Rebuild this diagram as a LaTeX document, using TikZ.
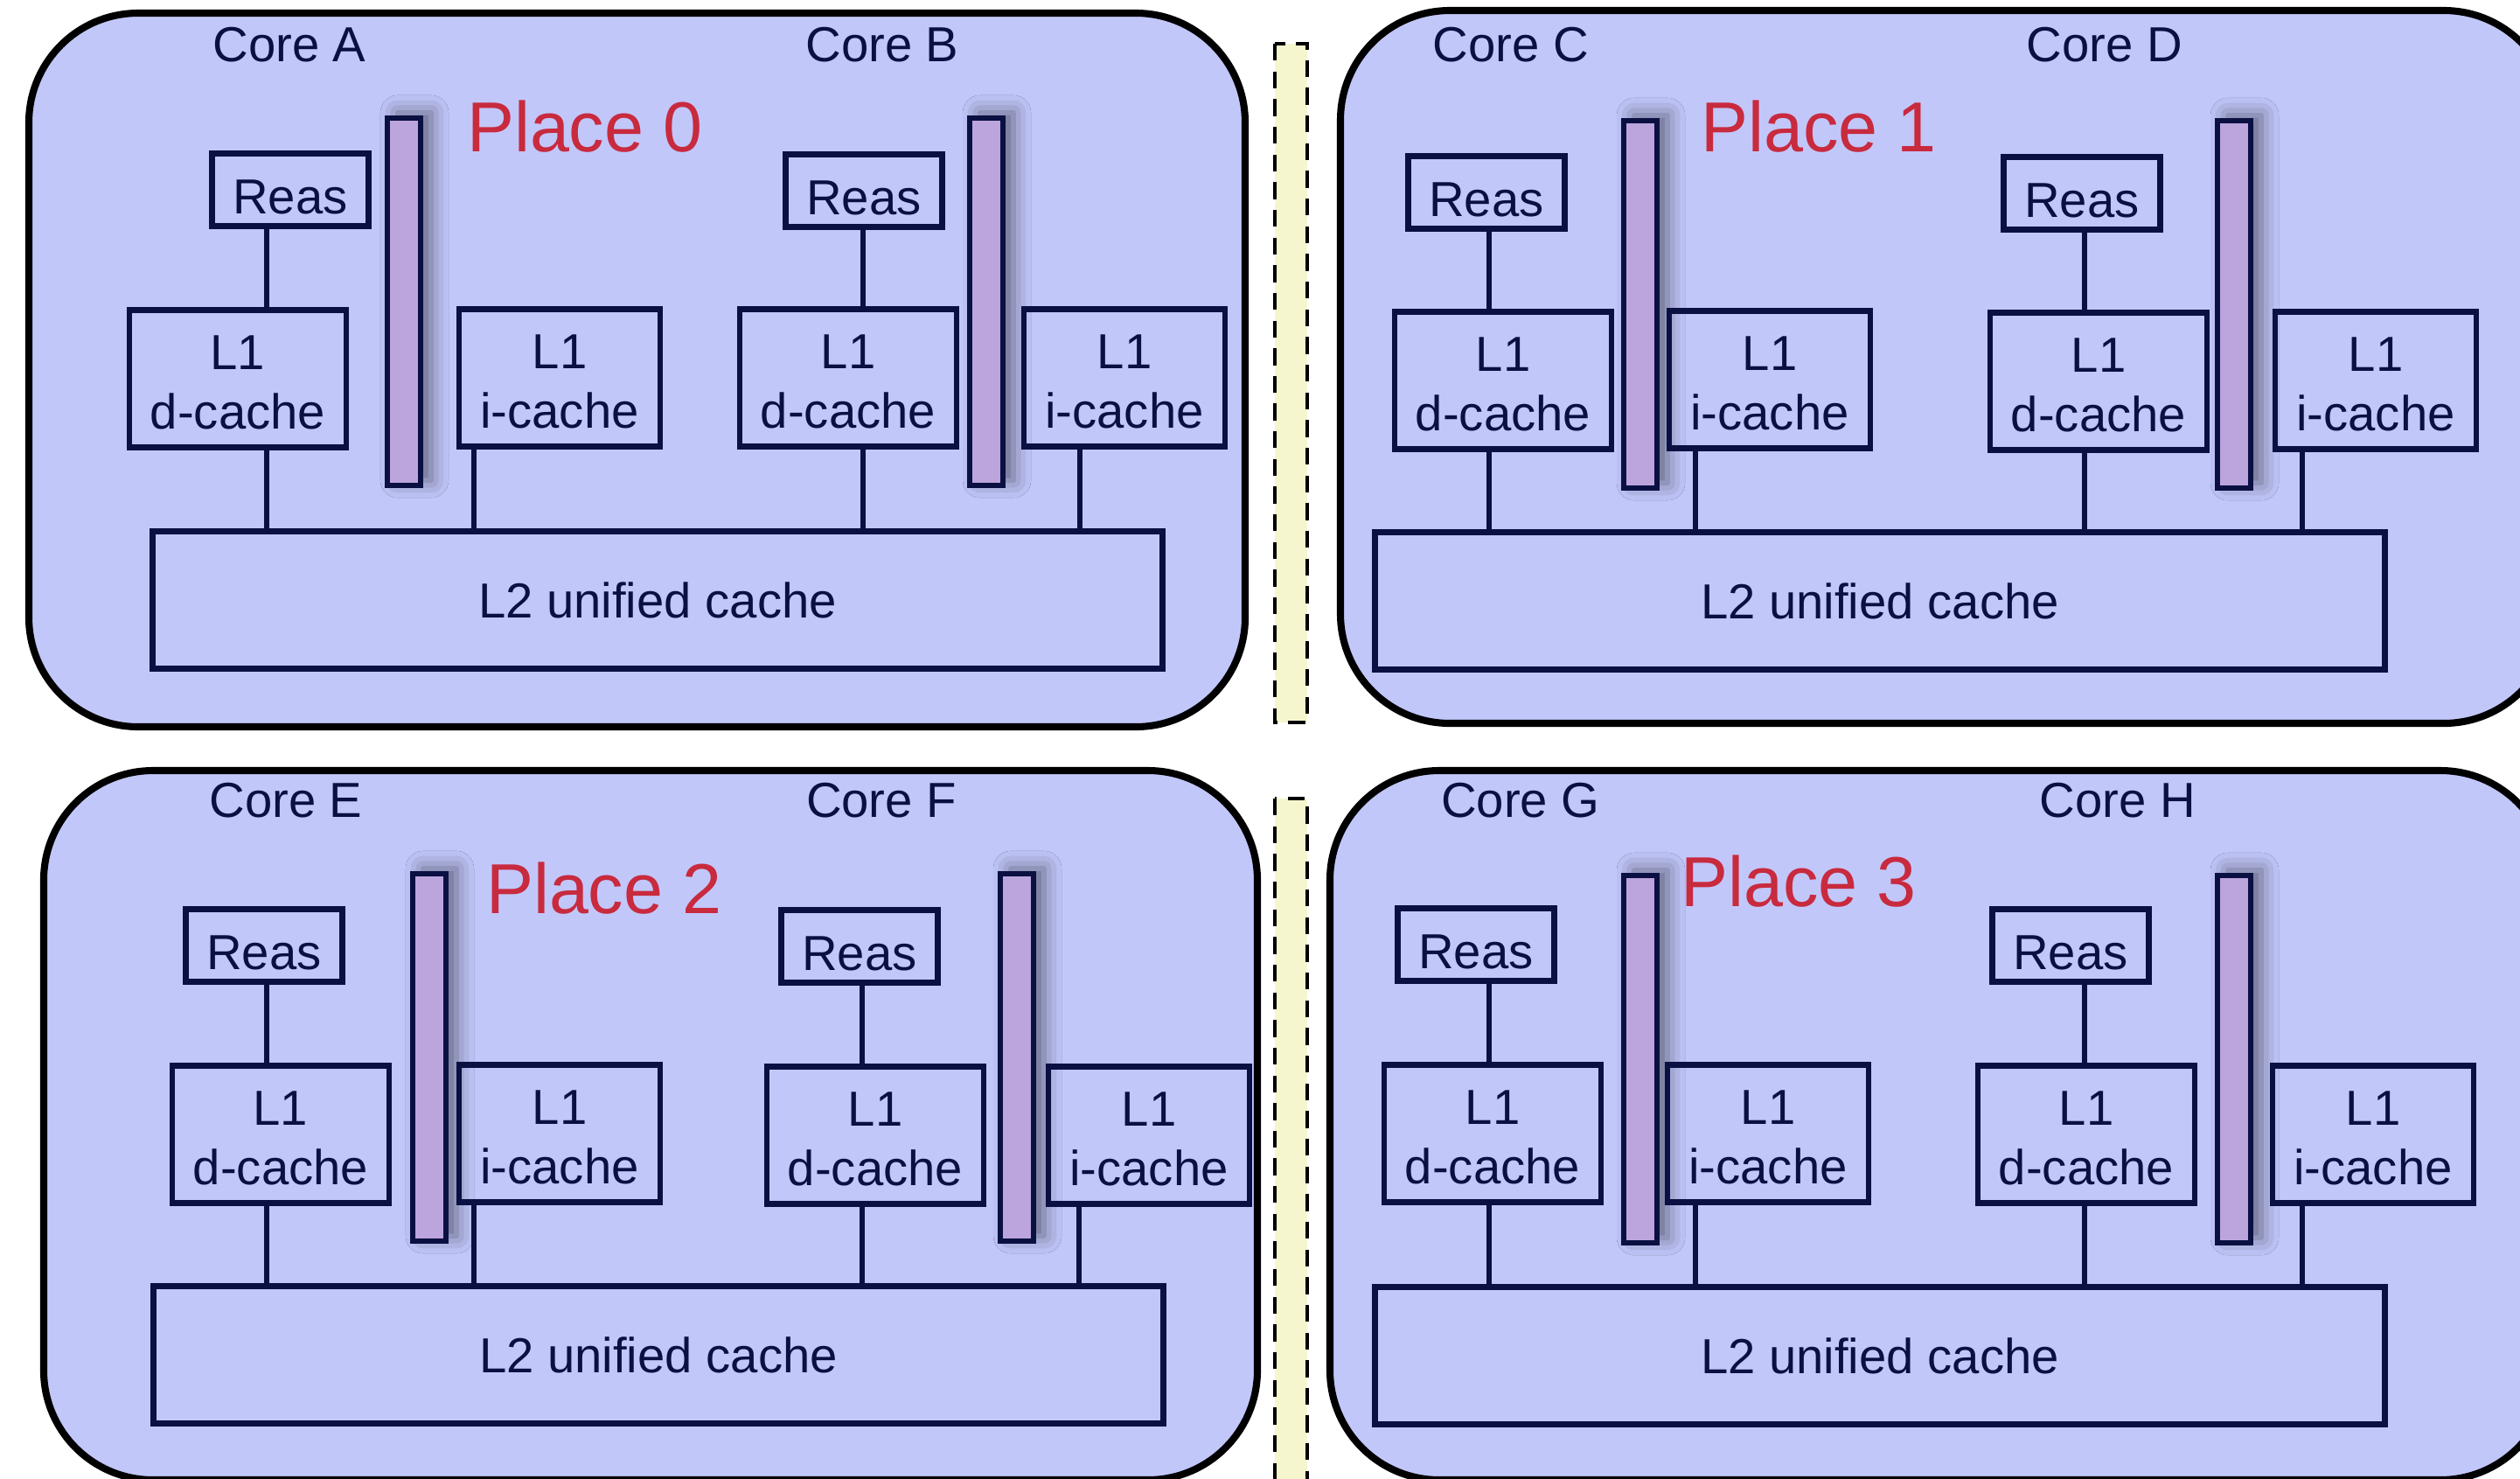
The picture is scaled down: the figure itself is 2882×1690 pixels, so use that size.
\documentclass[tikz,border=0pt]{standalone}
\usepackage{fontspec}
\setmainfont{Liberation Sans}
\usetikzlibrary{shadows.blur}
\definecolor{pl}{HTML}{C2C7FA}
\definecolor{nv}{HTML}{0B1042}
\definecolor{ba}{HTML}{BCA5DD}
\definecolor{re}{HTML}{C82A3E}
\definecolor{ye}{HTML}{F6F6CE}

\tikzset{
  place/.style={draw=black, line width=2.3pt, fill=pl, rounded corners=1.25cm},
  gap/.style={draw=black, line width=1.4pt, dash pattern=on 5.5pt off 3.5pt, fill=ye},
  txt/.style={text=nv, font=\fontsize{16}{19.4}\selectfont},
  reg/.style={txt, draw=nv, line width=1.9pt, minimum width=1.79cm, minimum height=0.83cm, inner sep=0pt,
    text height=15.4pt, text depth=0pt},
  dc/.style={reg, align=center, minimum width=2.48cm, minimum height=1.57cm, text height=32.6pt},
  ic/.style={dc, minimum width=2.3cm},
  ltwo/.style={reg, minimum width=11.54cm, minimum height=1.57cm, text height=11.6pt},
  bus/.style={draw=nv, fill=ba, line width=1.9pt, minimum width=0.38cm, minimum height=4.2cm, inner sep=0pt,
    blur shadow={shadow xshift=1.2mm, shadow yshift=0.6mm, shadow blur radius=2mm, shadow opacity=50}},
  wire/.style={draw=nv, line width=1.5pt},
  plabel/.style={text=re, font=\fontsize{23}{28}\selectfont, inner sep=0pt},
  clabel/.style={txt, inner sep=0pt}
}

\begin{document}
\begin{tikzpicture}[x=0.01cm, y=-0.01cm]

  \useasboundingbox (0,0) rectangle (2882,1690);
  \clip (0,0) rectangle (2882,1690);

  \draw[gap] (1458,50) rectangle (1495,826);
  \draw[gap] (1458,913) rectangle (1495,1700);

  \draw[place] (33,15) rectangle (1424,831);
  \node[plabel] (p0) at (669,145) {Place 0};
  \node[clabel] (cA) at (331,51) {Core A};
  \node[clabel] (cB) at (1009,51) {Core B};
  \node[reg] (rA) at (332,217) {Reas};
  \node[dc] (dA) at (272,433) {L1\\d-cache};
  \node[bus] (bA) at (462,345) {};
  \node[ic] (iA) at (640,432) {L1\\i-cache};
  \node[reg] (rB) at (988,218) {Reas};
  \node[dc] (dB) at (970,432) {L1\\d-cache};
  \node[bus] (bB) at (1128,345) {};
  \node[ic] (iB) at (1286,432) {L1\\i-cache};
  \node[ltwo] (l2p0) at (752,686) {L2 unified cache};
  \coordinate (wA) at (305,0);
  \coordinate (vA) at (542,0);
  \coordinate (wB) at (987,0);
  \coordinate (vB) at (1235,0);
  \draw[wire] (rA.south -| wA) -- (dA.north -| wA);
  \draw[wire] (dA.south -| wA) -- (l2p0.north -| wA);
  \draw[wire] (iA.south -| vA) -- (l2p0.north -| vA);
  \draw[wire] (rB.south -| wB) -- (dB.north -| wB);
  \draw[wire] (dB.south -| wB) -- (l2p0.north -| wB);
  \draw[wire] (iB.south -| vB) -- (l2p0.north -| vB);

  \draw[place] (1533,12) rectangle (2920,827);
  \node[plabel] (p1) at (2080,145) {Place 1};
  \node[clabel] (cC) at (1728,51) {Core C};
  \node[clabel] (cD) at (2407,51) {Core D};
  \node[reg] (rC) at (1700,220) {Reas};
  \node[dc] (dC) at (1719,435) {L1\\d-cache};
  \node[bus] (bC) at (1876,348) {};
  \node[ic] (iC) at (2024,434) {L1\\i-cache};
  \node[reg] (rD) at (2381,221) {Reas};
  \node[dc] (dD) at (2400,436) {L1\\d-cache};
  \node[bus] (bD) at (2555,348) {};
  \node[ic] (iD) at (2717,435) {L1\\i-cache};
  \node[ltwo] (l2p1) at (2150,687) {L2 unified cache};
  \coordinate (wC) at (1703,0);
  \coordinate (vC) at (1939,0);
  \coordinate (wD) at (2384,0);
  \coordinate (vD) at (2633,0);
  \draw[wire] (rC.south -| wC) -- (dC.north -| wC);
  \draw[wire] (dC.south -| wC) -- (l2p1.north -| wC);
  \draw[wire] (iC.south -| vC) -- (l2p1.north -| vC);
  \draw[wire] (rD.south -| wD) -- (dD.north -| wD);
  \draw[wire] (dD.south -| wD) -- (l2p1.north -| wD);
  \draw[wire] (iD.south -| vD) -- (l2p1.north -| vD);

  \draw[place] (50,881) rectangle (1438,1692);
  \node[plabel] (p2) at (691,1016) {Place 2};
  \node[clabel] (cE) at (327,915) {Core E};
  \node[clabel] (cF) at (1008,915) {Core F};
  \node[reg] (rE) at (302,1081) {Reas};
  \node[dc] (dE) at (321,1297) {L1\\d-cache};
  \node[bus] (bE) at (491,1209) {};
  \node[ic] (iE) at (640,1296) {L1\\i-cache};
  \node[reg] (rF) at (983,1082) {Reas};
  \node[dc] (dF) at (1001,1298) {L1\\d-cache};
  \node[bus] (bF) at (1163,1209) {};
  \node[ic] (iF) at (1314,1298) {L1\\i-cache};
  \node[ltwo] (l2p2) at (753,1549) {L2 unified cache};
  \coordinate (wE) at (305,0);
  \coordinate (vE) at (542,0);
  \coordinate (wF) at (986,0);
  \coordinate (vF) at (1234,0);
  \draw[wire] (rE.south -| wE) -- (dE.north -| wE);
  \draw[wire] (dE.south -| wE) -- (l2p2.north -| wE);
  \draw[wire] (iE.south -| vE) -- (l2p2.north -| vE);
  \draw[wire] (rF.south -| wF) -- (dF.north -| wF);
  \draw[wire] (dF.south -| wF) -- (l2p2.north -| wF);
  \draw[wire] (iF.south -| vF) -- (l2p2.north -| vF);

  \draw[place] (1521,881) rectangle (2916,1692);
  \node[plabel] (p3) at (2057,1008) {Place 3};
  \node[clabel] (cG) at (1739,915) {Core G};
  \node[clabel] (cH) at (2422,915) {Core H};
  \node[reg] (rG) at (1688,1080) {Reas};
  \node[dc] (dG) at (1707,1296) {L1\\d-cache};
  \node[bus] (bG) at (1876,1211) {};
  \node[ic] (iG) at (2022,1296) {L1\\i-cache};
  \node[reg] (rH) at (2368,1081) {Reas};
  \node[dc] (dH) at (2386,1297) {L1\\d-cache};
  \node[bus] (bH) at (2555,1211) {};
  \node[ic] (iH) at (2714,1297) {L1\\i-cache};
  \node[ltwo] (l2p3) at (2150,1550) {L2 unified cache};
  \coordinate (wG) at (1703,0);
  \coordinate (vG) at (1939,0);
  \coordinate (wH) at (2384,0);
  \coordinate (vH) at (2633,0);
  \draw[wire] (rG.south -| wG) -- (dG.north -| wG);
  \draw[wire] (dG.south -| wG) -- (l2p3.north -| wG);
  \draw[wire] (iG.south -| vG) -- (l2p3.north -| vG);
  \draw[wire] (rH.south -| wH) -- (dH.north -| wH);
  \draw[wire] (dH.south -| wH) -- (l2p3.north -| wH);
  \draw[wire] (iH.south -| vH) -- (l2p3.north -| vH);

\end{tikzpicture}
\end{document}
